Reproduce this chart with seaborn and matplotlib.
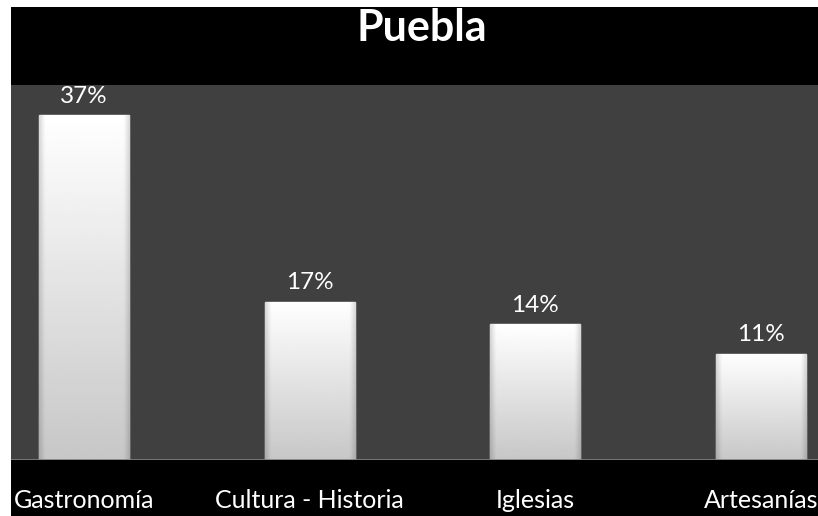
import numpy as np
import pandas as pd
import matplotlib
matplotlib.use("Agg")
import matplotlib.pyplot as plt
import matplotlib.patches as mpatches
import seaborn as sns

# datos (porcentaje por atractivo)
categorias = ["Gastronomía", "Cultura - Historia", "Iglesias", "Artesanías"]
valores = [36.6, 16.8, 14.4, 11.3]

df = pd.DataFrame({"categoria": categorias, "valor": valores})

sns.set_style("dark")
plt.rcParams['font.family'] = ['Lato', 'DejaVu Sans']

fig = plt.figure(figsize=(8.18, 5.16), dpi=100, facecolor="black")
# borde blanco arriba e izquierda
fig.patches.append(mpatches.Rectangle((0, 0), 11 / 818, 1, transform=fig.transFigure,
                                      facecolor="white", linewidth=0, zorder=-10))
fig.patches.append(mpatches.Rectangle((0, 1 - 7 / 516), 1, 7 / 516,
                                      transform=fig.transFigure,
                                      facecolor="white", linewidth=0, zorder=-10))

ax = fig.add_axes([0.0135, 0.1085, 0.9865, 0.7268])
ax.set_facecolor("#404040")

sns.barplot(data=df, x="categoria", y="valor", color="white", width=0.4,
            saturation=1, ax=ax)

# degradado tipo bisel en cada barra
ny, nx = 120, 60
vert = np.linspace(1.0, 0.78, ny)[:, None]
xx = np.linspace(0, 1, nx)[None, :]
edge = np.clip(np.minimum(xx, 1 - xx) / 0.06, 0, 1)
img = vert * (0.86 + 0.14 * edge)
for p in ax.patches:
    x0, y0 = p.get_x(), p.get_y()
    w, h = p.get_width(), p.get_height()
    im = ax.imshow(img, extent=[x0, x0 + w, y0, y0 + h], cmap="gray",
                   vmin=0, vmax=1, aspect="auto", zorder=p.get_zorder() + 0.1,
                   interpolation="bilinear")
    im.set_clip_path(p)
    ax.annotate(f"{round(p.get_height()):.0f}%", (x0 + w / 2, y0 + h),
                xytext=(0, 6), textcoords="offset points", ha="center",
                va="bottom", color="white", fontsize=17.5)

ax.axhline(0, color="#808080", lw=1.2, zorder=5)
ax.set_xlim(-0.324, 3.253)
ax.set_ylim(0, 39.8)
ax.set_yticks([])
ax.set_xlabel("")
ax.set_ylabel("")
ax.tick_params(axis="x", length=0, pad=21, labelsize=18, labelcolor="white")
for s in ax.spines.values():
    s.set_visible(False)
ax.grid(False)

fig.text(0.516, 0.945, "Puebla", ha="center", va="center", color="white",
         fontsize=31, fontweight="bold")

fig.savefig("out.png", dpi=100, facecolor="black")
